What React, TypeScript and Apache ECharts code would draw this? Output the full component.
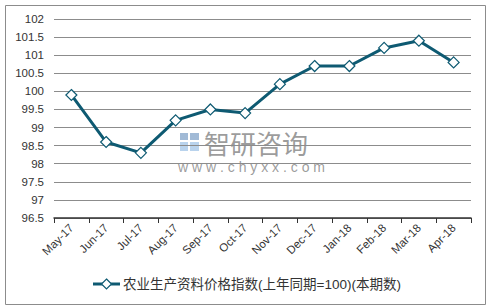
import React, { useEffect, useRef } from "react";
import * as echarts from "echarts";

const categories = ["May-17", "Jun-17", "Jul-17", "Aug-17", "Sep-17", "Oct-17", "Nov-17", "Dec-17", "Jan-18", "Feb-18", "Mar-18", "Apr-18"];
const values = [99.9, 98.6, 98.3, 99.2, 99.5, 99.4, 100.2, 100.7, 100.7, 101.2, 101.4, 100.8];
const seriesName = "农业生产资料价格指数(上年同期=100)(本期数)";
const yMin = 96.5;
const yMax = 102;
const yStep = 0.5;

const FONT = "'Liberation Sans', 'Noto Sans CJK SC', sans-serif";
const LINE = "#0e5a72";

export default function App() {
  const ref = useRef<HTMLDivElement>(null);
  useEffect(() => {
    document.body.style.margin = "0";
    const chart = echarts.init(ref.current!, null, { renderer: "svg" });
    const ly = 284;
    const lx = 93;
    chart.setOption({
      animation: false,
      backgroundColor: "#ffffff",
      color: [LINE],
      textStyle: { fontFamily: FONT },
      grid: { left: 54, right: 22, top: 19, bottom: 90, containLabel: false },
      xAxis: {
        type: "category",
        data: categories,
        boundaryGap: true,
        axisLine: { lineStyle: { color: "#333", width: 1.5 } },
        axisTick: { show: true, length: 5, lineStyle: { color: "#333" } },
        axisLabel: { rotate: 45, color: "#333", fontSize: 11.5, margin: 8, fontFamily: FONT },
        splitLine: { show: false },
      },
      yAxis: {
        type: "value",
        min: yMin,
        max: yMax,
        interval: yStep,
        axisLine: { show: false },
        axisTick: { show: false },
        axisLabel: { color: "#333", fontSize: 11.5, margin: 10, fontFamily: FONT },
        splitLine: { lineStyle: { color: "#8c8c8c", width: 1 } },
      },
      legend: { show: false },
      graphic: [
        {
          type: "rect",
          shape: { x: 5.5, y: 5.5, width: 480, height: 299 },
          style: { fill: "none", stroke: "#8c8c8c", lineWidth: 1 },
          silent: true,
        },
        {
          type: "group",
          children: [
            { type: "line", shape: { x1: lx, y1: ly, x2: lx + 27, y2: ly }, style: { stroke: LINE, lineWidth: 3 } },
            {
              type: "polygon",
              shape: { points: [[lx + 13.5, ly - 5], [lx + 18.5, ly], [lx + 13.5, ly + 5], [lx + 8.5, ly]] },
              style: { fill: "#ffffff", stroke: LINE, lineWidth: 1.2 },
            },
            {
              type: "text",
              x: lx + 30,
              y: ly,
              style: { text: seriesName, fill: "#333", font: "13.5px 'Liberation Sans', 'Noto Sans CJK SC'", verticalAlign: "middle" },
            },
          ],
        },
        {
          type: "group",
          z: -10,
          children: [
            { type: "rect", shape: { x: 180, y: 133, width: 8, height: 7 }, style: { fill: "#8aa9cc", opacity: 0.8 } },
            { type: "rect", shape: { x: 190, y: 133, width: 9, height: 7 }, style: { fill: "#8aa9cc", opacity: 0.8 } },
            { type: "rect", shape: { x: 180, y: 142, width: 8, height: 9 }, style: { fill: "#a8c8e8", opacity: 0.8 } },
            { type: "rect", shape: { x: 190, y: 142, width: 9, height: 9 }, style: { fill: "#a8c8e8", opacity: 0.8 } },
            {
              type: "text",
              x: 204,
              y: 142,
              style: { text: "智研咨询", fill: "#8a8a8a", font: "26px 'Noto Sans CJK SC'", verticalAlign: "middle", opacity: 0.85 },
            },
            {
              type: "text",
              x: 178,
              y: 167,
              style: { text: "w w w . c h y x x . c o m", fill: "#8a8a8a", font: "14px 'Liberation Sans'", verticalAlign: "middle", opacity: 0.85 },
            },
          ],
        },
      ],
      series: [
        {
          name: seriesName,
          type: "line",
          data: values,
          symbol: "diamond",
          symbolSize: 11,
          lineStyle: { color: LINE, width: 3 },
          itemStyle: { color: "#ffffff", borderColor: LINE, borderWidth: 1.2 },
          z: 5,
        },
      ],
    });
    return () => chart.dispose();
  }, []);
  return <div ref={ref} style={{ width: 493, height: 308 }} />;
}
